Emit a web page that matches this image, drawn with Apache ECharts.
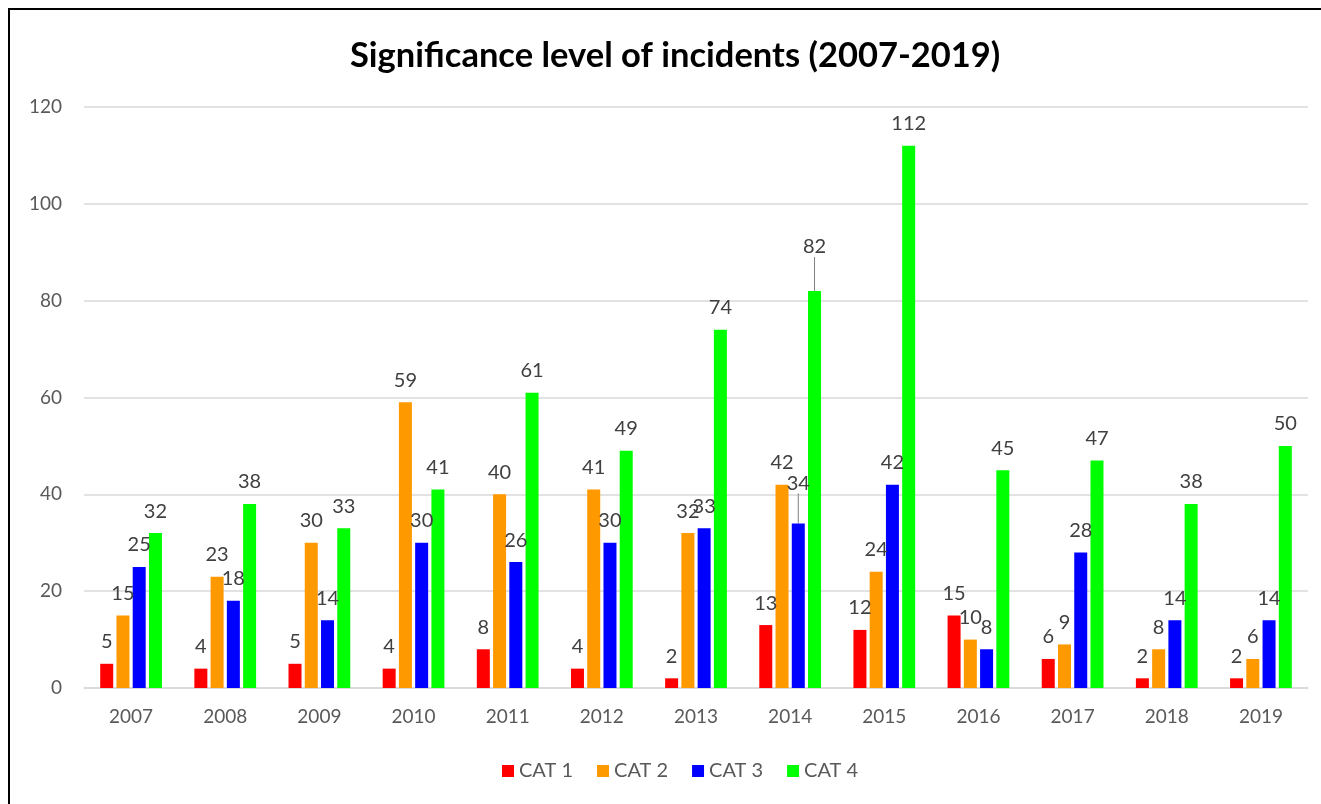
<!DOCTYPE html>
<html>
<head>
<meta charset="utf-8">
<script src="https://cdn.jsdelivr.net/npm/echarts@6/dist/echarts.min.js"></script>
<style>
html,body{margin:0;padding:0;background:#fff;}
#chart{width:1321px;height:804px;}
</style>
</head>
<body>
<div id="chart"></div>
<script>
const categories = ['2007','2008','2009','2010','2011','2012','2013','2014','2015','2016','2017','2018','2019'];
const cat1 = [5,4,5,4,8,4,2,13,12,15,6,2,2];
const cat2 = [15,23,30,59,40,41,32,42,24,10,9,8,6];
const cat3 = [25,18,14,30,26,30,33,34,42,8,28,14,14];
const cat4 = [32,38,33,41,61,49,74,82,112,45,47,38,50];
const seriesNames = ['CAT 1','CAT 2','CAT 3','CAT 4'];
const colors = ['#FF0000','#FF9900','#0000FF','#00FF00'];
// labels moved up with a leader line: [seriesIndex, dataIndex, dy]
const movedLabels = [[3, 7, -22], [2, 7, -18]];

const FONT = 'Lato';
const chart = echarts.init(document.getElementById('chart'));

function mkSeries(idx, data){
  const items = data.map(function(v, i){
    const m = movedLabels.find(function(x){ return x[0] === idx && x[1] === i; });
    return m ? {value: v, labelLine: {show: true}} : {value: v};
  });
  return {
    name: seriesNames[idx],
    type: 'bar',
    data: items,
    barWidth: 13,
    barGap: '25%',
    itemStyle: {color: colors[idx]},
    label: {
      show: true,
      position: 'top',
      distance: 12,
      color: '#404040',
      fontSize: 20,
      fontFamily: FONT
    },
    labelLine: {show: false, lineStyle: {color: '#808080', width: 1}},
    labelLayout: function(p){
      const m = movedLabels.find(function(x){ return x[0] === idx && x[1] === p.dataIndex; });
      return m ? {dy: m[2]} : {};
    }
  };
}

chart.setOption({
  backgroundColor: '#fff',
  animation: false,
  color: colors,
  title: {
    text: 'Significance level of incidents (2007-2019)',
    left: 345,
    top: 33,
    textStyle: {fontFamily: FONT, fontWeight: 'bold', fontSize: 34.5, color: '#000'}
  },
  graphic: [{
    type: 'rect',
    shape: {x: 9, y: 9, width: 1330, height: 820},
    style: {fill: 'none', stroke: '#000', lineWidth: 2},
    silent: true
  }],
  legend: {
    bottom: 18,
    left: 497,
    itemWidth: 12,
    itemHeight: 12,
    itemGap: 24,
    icon: 'rect',
    textStyle: {fontFamily: FONT, fontSize: 20, color: '#595959'},
    data: seriesNames
  },
  grid: {left: 84, right: 13, top: 107, bottom: 116},
  xAxis: {
    type: 'category',
    data: categories,
    axisLine: {lineStyle: {color: '#d9d9d9', width: 1.5}},
    axisTick: {show: false},
    axisLabel: {fontFamily: FONT, fontSize: 19, color: '#595959', margin: 19}
  },
  yAxis: {
    type: 'value',
    min: 0,
    max: 120,
    interval: 20,
    axisLine: {show: false},
    axisTick: {show: false},
    axisLabel: {fontFamily: FONT, fontSize: 19, color: '#595959', margin: 22},
    splitLine: {lineStyle: {color: '#d9d9d9', width: 1.5}}
  },
  series: [
    mkSeries(0, cat1),
    mkSeries(1, cat2),
    mkSeries(2, cat3),
    mkSeries(3, cat4)
  ]
});
</script>
</body>
</html>
